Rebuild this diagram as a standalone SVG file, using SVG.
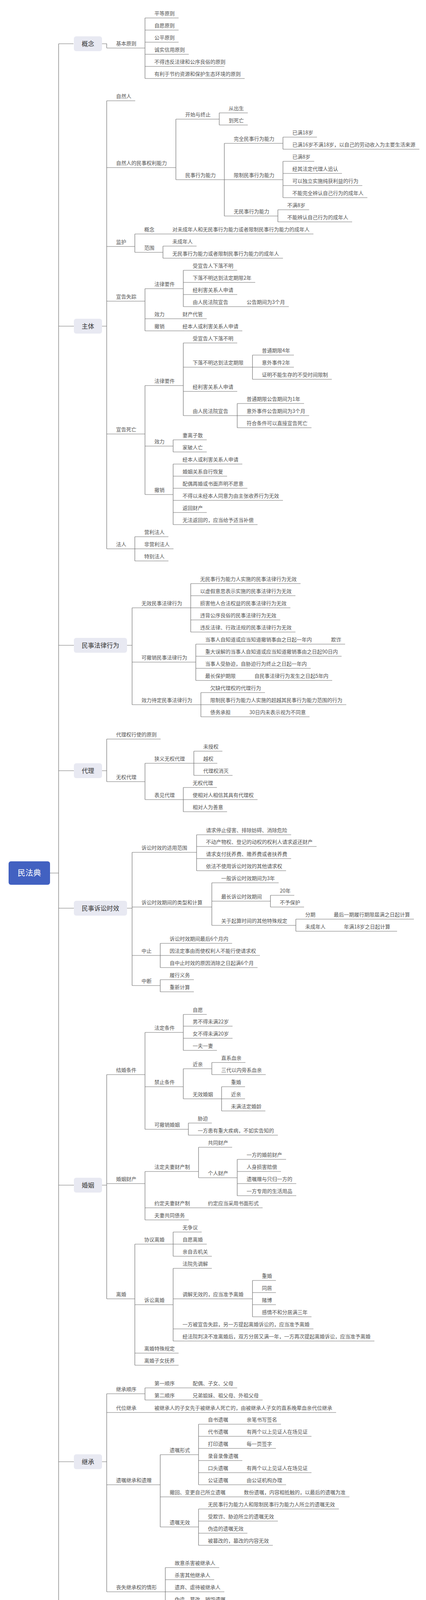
<svg xmlns="http://www.w3.org/2000/svg" width="1090" height="4469" viewBox="0 0 1090 4469">
<style>
.t{font-family:"Noto Sans CJK SC","Noto Sans",sans-serif;font-size:13px;fill:#555}
.u,.c{fill:none;stroke:#6e6e6e;stroke-width:1.2}
.b{fill:#e8e9f2}
.bt{font-family:"Noto Sans CJK SC","Noto Sans",sans-serif;font-size:16px;fill:#333;text-anchor:middle}
.r{fill:#4261c1}
.rt{font-family:"Noto Sans CJK SC","Noto Sans",sans-serif;font-size:20px;fill:#fff;text-anchor:middle}
</style>
<rect width="1090" height="4469" fill="#fff"/>
<g id="connectors" class="c">
<path d="M128 2235H150M150 112V4218"/>
<path d="M150 112H188M261 112H273V123M371 46V201"/>
<path d="M150 835H189M261 835H273M273 258V1405M450 305V460M561 289V320M574 367V553M724 351V382M724 413V506M711 537V568M345 599V646M417 630V661M371 739V847M469 692V785M371 987V1266M469 878V1064M646 909V971M607 1033V1095M443 1126V1157M443 1188V1343M345 1374V1436"/>
<path d="M150 1652H189M325 1652H338M338 1556V1804M488 1494V1618M501 1649V1742M514 1773V1835"/>
<path d="M150 1973H189M261 1973H273M273 1892V2001M371 1954V2047M496 1923V1985M469 2016V2078"/>
<path d="M150 2325H189M325 2325H338M338 2182V2523M503 2137V2229M542 2260V2369M692 2292V2322M757 2353V2384M410 2415V2477M410 2508V2539"/>
<path d="M150 3034H189M261 3034H273M273 2751V3325M371 2643V2891M469 2597V2689M469 2736V2813M542 2720V2751M567 2782V2844M482 2875V2906M371 2999V3123M508 2937V3015M607 2968V3061M345 3185V3495M443 3154V3216M443 3247V3433M646 3278V3371"/>
<path d="M150 3742H189M261 3742H273M273 3568V4075M371 3553V3584M410 3724V3909M508 3646V3801M508 3863V3956M423 4013V4137"/>
<path d="M150 4218H189M261 4218H273M273 4215V4447M384 4168V4261M371 4292V4385"/>
</g>
<g id="root"><rect class="r" x="22" y="2205" width="106" height="60" rx="6"/><text class="rt" x="75" y="2242">民法典</text></g>
<g id="l1-gainian"><rect class="b" x="189" y="93" width="72" height="38" rx="6"/><text class="bt" x="225" y="118">概念</text></g>
<g id="l1-zhuti"><rect class="b" x="189" y="816" width="72" height="38" rx="6"/><text class="bt" x="225" y="841">主体</text></g>
<g id="l1-mfxw"><rect class="b" x="189" y="1633" width="136" height="38" rx="6"/><text class="bt" x="257" y="1658">民事法律行为</text></g>
<g id="l1-daili"><rect class="b" x="189" y="1954" width="72" height="38" rx="6"/><text class="bt" x="225" y="1979">代理</text></g>
<g id="l1-sxsx"><rect class="b" x="189" y="2306" width="136" height="38" rx="6"/><text class="bt" x="257" y="2331">民事诉讼时效</text></g>
<g id="l1-hunyin"><rect class="b" x="189" y="3015" width="72" height="38" rx="6"/><text class="bt" x="225" y="3040">婚姻</text></g>
<g id="l1-jicheng"><rect class="b" x="189" y="3723" width="72" height="38" rx="6"/><text class="bt" x="225" y="3748">继承</text></g>
<g id="l1-yichan"><rect class="b" x="189" y="4199" width="72" height="38" rx="6"/><text class="bt" x="225" y="4224">遗产</text></g>

<g id="a1"><path class="u" d="M273 123H371"/><text class="t" x="297" y="116">基本原则</text></g>
<g id="a2"><path class="u" d="M371 46H457"/><text class="t" x="395" y="39">平等原则</text></g>
<g id="a3"><path class="u" d="M371 77H457"/><text class="t" x="395" y="70">自愿原则</text></g>
<g id="a4"><path class="u" d="M371 108H457"/><text class="t" x="395" y="101">公平原则</text></g>
<g id="a5"><path class="u" d="M371 139H483"/><text class="t" x="395" y="132">诚实信用原则</text></g>
<g id="a6"><path class="u" d="M371 170H574"/><text class="t" x="395" y="163">不得违反法律和公序良俗的原则</text></g>
<g id="a7"><path class="u" d="M371 201H626"/><text class="t" x="395" y="194">有利于节约资源和保护生态环境的原则</text></g>

<g id="b1"><path class="u" d="M273 258H346"/><text class="t" x="297" y="251">自然人</text></g>
<g id="b2"><path class="u" d="M273 429H450"/><text class="t" x="297" y="422">自然人的民事权利能力</text></g>
<g id="b3"><path class="u" d="M450 305H561"/><text class="t" x="474" y="298">开始与终止</text></g>
<g id="b4"><path class="u" d="M561 289H634"/><text class="t" x="585" y="282">从出生</text></g>
<g id="b5"><path class="u" d="M561 320H634"/><text class="t" x="585" y="313">到死亡</text></g>
<g id="b6"><path class="u" d="M450 460H574"/><text class="t" x="474" y="453">民事行为能力</text></g>
<g id="b7"><path class="u" d="M574 367H724"/><text class="t" x="598" y="360">完全民事行为能力</text></g>
<g id="b8"><path class="u" d="M724 351H811"/><text class="t" x="748" y="344">已满18岁</text></g>
<g id="b9"><path class="u" d="M724 382H1073"/><text class="t" x="748" y="375">已满16岁不满18岁，以自己的劳动收入为主要生活来源</text></g>
<g id="b10"><path class="u" d="M574 460H724"/><text class="t" x="598" y="453">限制民事行为能力</text></g>
<g id="b11"><path class="u" d="M724 413H804"/><text class="t" x="748" y="406">已满8岁</text></g>
<g id="b12"><path class="u" d="M724 444H875"/><text class="t" x="748" y="437">经其法定代理人追认</text></g>
<g id="b13"><path class="u" d="M724 475H927"/><text class="t" x="748" y="468">可以独立实施纯获利益的行为</text></g>
<g id="b14"><path class="u" d="M724 506H940"/><text class="t" x="748" y="499">不能完全辨认自己行为的成年人</text></g>
<g id="b15"><path class="u" d="M574 553H711"/><text class="t" x="598" y="546">无民事行为能力</text></g>
<g id="b16"><path class="u" d="M711 537H791"/><text class="t" x="735" y="530">不满8岁</text></g>
<g id="b17"><path class="u" d="M711 568H901"/><text class="t" x="735" y="561">不能辨认自己行为的成年人</text></g>
<g id="b18"><path class="u" d="M273 631H345"/><text class="t" x="297" y="624">监护</text></g>
<g id="b19"><path class="u" d="M345 599H417"/><text class="t" x="369" y="592">概念</text></g>
<g id="b20"><path class="u" d="M417 599H802"/><text class="t" x="441" y="592">对未成年人和无民事行为能力或者限制民事行为能力的成年人</text></g>
<g id="b21"><path class="u" d="M345 646H417"/><text class="t" x="369" y="639">范围</text></g>
<g id="b22"><path class="u" d="M417 630H503"/><text class="t" x="441" y="623">未成年人</text></g>
<g id="b23"><path class="u" d="M417 661H724"/><text class="t" x="441" y="654">无民事行为能力或者限制民事行为能力的成年人</text></g>
<g id="b24"><path class="u" d="M273 771H371"/><text class="t" x="297" y="764">宣告失踪</text></g>
<g id="b25"><path class="u" d="M371 739H469"/><text class="t" x="395" y="732">法律要件</text></g>
<g id="b26"><path class="u" d="M469 692H607"/><text class="t" x="493" y="685">受宣告人下落不明</text></g>
<g id="b27"><path class="u" d="M469 723H653"/><text class="t" x="493" y="716">下落不明达到法定期限2年</text></g>
<g id="b28"><path class="u" d="M469 754H607"/><text class="t" x="493" y="747">经利害关系人申请</text></g>
<g id="b29"><path class="u" d="M469 785H607"/><text class="t" x="493" y="778">由人民法院宣告</text></g>
<g id="b30"><path class="u" d="M607 785H739"/><text class="t" x="631" y="778">公告期间为3个月</text></g>
<g id="b31"><path class="u" d="M371 816H443"/><text class="t" x="395" y="809">效力</text></g>
<g id="b32"><path class="u" d="M443 816H529"/><text class="t" x="467" y="809">财产代管</text></g>
<g id="b33"><path class="u" d="M371 847H443"/><text class="t" x="395" y="840">撤销</text></g>
<g id="b34"><path class="u" d="M443 847H620"/><text class="t" x="467" y="840">经本人或利害关系人申请</text></g>
<g id="b35"><path class="u" d="M273 1111H371"/><text class="t" x="297" y="1104">宣告死亡</text></g>
<g id="b36"><path class="u" d="M371 987H469"/><text class="t" x="395" y="980">法律要件</text></g>
<g id="b37"><path class="u" d="M469 878H607"/><text class="t" x="493" y="871">受宣告人下落不明</text></g>
<g id="b38"><path class="u" d="M469 940H646"/><text class="t" x="493" y="933">下落不明达到法定期限</text></g>
<g id="b39"><path class="u" d="M646 909H752"/><text class="t" x="670" y="902">普通期限4年</text></g>
<g id="b40"><path class="u" d="M646 940H752"/><text class="t" x="670" y="933">意外事件2年</text></g>
<g id="b41"><path class="u" d="M646 971H849"/><text class="t" x="670" y="964">证明不能生存的不受时间限制</text></g>
<g id="b42"><path class="u" d="M469 1002H607"/><text class="t" x="493" y="995">经利害关系人申请</text></g>
<g id="b43"><path class="u" d="M469 1064H607"/><text class="t" x="493" y="1057">由人民法院宣告</text></g>
<g id="b44"><path class="u" d="M607 1033H778"/><text class="t" x="631" y="1026">普通期限公告期间为1年</text></g>
<g id="b45"><path class="u" d="M607 1064H791"/><text class="t" x="631" y="1057">意外事件公告期间为3个月</text></g>
<g id="b46"><path class="u" d="M607 1095H797"/><text class="t" x="631" y="1088">符合条件可以直接宣告死亡</text></g>
<g id="b47"><path class="u" d="M371 1142H443"/><text class="t" x="395" y="1135">效力</text></g>
<g id="b48"><path class="u" d="M443 1126H529"/><text class="t" x="467" y="1119">妻离子散</text></g>
<g id="b49"><path class="u" d="M443 1157H529"/><text class="t" x="467" y="1150">家破人亡</text></g>
<g id="b50"><path class="u" d="M371 1266H443"/><text class="t" x="395" y="1259">撤销</text></g>
<g id="b51"><path class="u" d="M443 1188H620"/><text class="t" x="467" y="1181">经本人或利害关系人申请</text></g>
<g id="b52"><path class="u" d="M443 1219H581"/><text class="t" x="467" y="1212">婚姻关系自行恢复</text></g>
<g id="b53"><path class="u" d="M443 1250H633"/><text class="t" x="467" y="1243">配偶再婚或书面声明不愿意</text></g>
<g id="b54"><path class="u" d="M443 1281H724"/><text class="t" x="467" y="1274">不得以未经本人同意为由主张收养行为无效</text></g>
<g id="b55"><path class="u" d="M443 1312H529"/><text class="t" x="467" y="1305">返回财产</text></g>
<g id="b56"><path class="u" d="M443 1343H659"/><text class="t" x="467" y="1336">无法返回的，应当给予适当补偿</text></g>
<g id="b57"><path class="u" d="M273 1405H345"/><text class="t" x="297" y="1398">法人</text></g>
<g id="b58"><path class="u" d="M345 1374H431"/><text class="t" x="369" y="1367">营利法人</text></g>
<g id="b59"><path class="u" d="M345 1405H444"/><text class="t" x="369" y="1398">非营利法人</text></g>
<g id="b60"><path class="u" d="M345 1436H431"/><text class="t" x="369" y="1429">特别法人</text></g>

<g id="c1"><path class="u" d="M338 1556H488"/><text class="t" x="362" y="1549">无效民事法律行为</text></g>
<g id="c2"><path class="u" d="M488 1494H769"/><text class="t" x="512" y="1487">无民事行为能力人实施的民事法律行为无效</text></g>
<g id="c3"><path class="u" d="M488 1525H756"/><text class="t" x="512" y="1518">以虚假意思表示实施的民事法律行为无效</text></g>
<g id="c4"><path class="u" d="M488 1556H743"/><text class="t" x="512" y="1549">损害他人合法权益的民事法律行为无效</text></g>
<g id="c5"><path class="u" d="M488 1587H717"/><text class="t" x="512" y="1580">违背公序良俗的民事法律行为无效</text></g>
<g id="c6"><path class="u" d="M488 1618H756"/><text class="t" x="512" y="1611">违反法律、行政法规的民事法律行为无效</text></g>
<g id="c7"><path class="u" d="M338 1695H501"/><text class="t" x="362" y="1688">可撤销民事法律行为</text></g>
<g id="c8"><path class="u" d="M501 1649H823"/><text class="t" x="525" y="1642">当事人自知道或应当知道撤销事由之日起一年内</text></g>
<g id="c9"><path class="u" d="M823 1649H883"/><text class="t" x="847" y="1642">欺诈</text></g>
<g id="c10"><path class="u" d="M501 1680H874"/><text class="t" x="525" y="1673">重大误解的当事人自知道或应当知道撤销事由之日起90日内</text></g>
<g id="c11"><path class="u" d="M501 1711H795"/><text class="t" x="525" y="1704">当事人受胁迫，自胁迫行为终止之日起一年内</text></g>
<g id="c12"><path class="u" d="M501 1742H627"/><text class="t" x="525" y="1735">最长保护期限</text></g>
<g id="c13"><path class="u" d="M627 1742H850"/><text class="t" x="651" y="1735">自民事法律行为发生之日起5年内</text></g>
<g id="c14"><path class="u" d="M338 1804H514"/><text class="t" x="362" y="1797">效力待定民事法律行为</text></g>
<g id="c15"><path class="u" d="M514 1773H678"/><text class="t" x="538" y="1766">欠缺代理权的代理行为</text></g>
<g id="c16"><path class="u" d="M514 1804H886"/><text class="t" x="538" y="1797">限制民事行为能力人实施的超越其民事行为能力范围的行为</text></g>
<g id="c17"><path class="u" d="M514 1835H614"/><text class="t" x="538" y="1828">债务承担</text></g>
<g id="c18"><path class="u" d="M614 1835H792"/><text class="t" x="638" y="1828">30日内未表示视为不同意</text></g>

<g id="d1"><path class="u" d="M273 1892H411"/><text class="t" x="297" y="1885">代理权行使的原则</text></g>
<g id="d2"><path class="u" d="M273 2001H371"/><text class="t" x="297" y="1994">无权代理</text></g>
<g id="d3"><path class="u" d="M371 1954H496"/><text class="t" x="395" y="1947">狭义无权代理</text></g>
<g id="d4"><path class="u" d="M496 1923H569"/><text class="t" x="520" y="1916">未授权</text></g>
<g id="d5"><path class="u" d="M496 1954H556"/><text class="t" x="520" y="1947">越权</text></g>
<g id="d6"><path class="u" d="M496 1985H595"/><text class="t" x="520" y="1978">代理权消灭</text></g>
<g id="d7"><path class="u" d="M371 2047H469"/><text class="t" x="395" y="2040">表见代理</text></g>
<g id="d8"><path class="u" d="M469 2016H555"/><text class="t" x="493" y="2009">无权代理</text></g>
<g id="d9"><path class="u" d="M469 2047H659"/><text class="t" x="493" y="2040">使相对人相信其具有代理权</text></g>
<g id="d10"><path class="u" d="M469 2078H581"/><text class="t" x="493" y="2071">相对人为善意</text></g>

<g id="e1"><path class="u" d="M338 2182H503"/><text class="t" x="362" y="2175">诉讼时效的适用范围</text></g>
<g id="e2"><path class="u" d="M503 2137H745"/><text class="t" x="527" y="2130">请求停止侵害、排除妨碍、消除危险</text></g>
<g id="e3"><path class="u" d="M503 2167H810"/><text class="t" x="527" y="2160">不动产物权、登记的动权的权利人请求返还财产</text></g>
<g id="e4"><path class="u" d="M503 2198H745"/><text class="t" x="527" y="2191">请求支付抚养费、赡养费或者扶养费</text></g>
<g id="e5"><path class="u" d="M503 2229H732"/><text class="t" x="527" y="2222">依法不使用诉讼时效的其他请求权</text></g>
<g id="e6"><path class="u" d="M338 2322H542"/><text class="t" x="362" y="2315">诉讼时效期间的类型和计算</text></g>
<g id="e7"><path class="u" d="M542 2260H713"/><text class="t" x="566" y="2253">一般诉讼时效期间为3年</text></g>
<g id="e8"><path class="u" d="M542 2307H692"/><text class="t" x="566" y="2300">最长诉讼时效期间</text></g>
<g id="e9"><path class="u" d="M692 2292H753"/><text class="t" x="716" y="2285">20年</text></g>
<g id="e10"><path class="u" d="M692 2322H778"/><text class="t" x="716" y="2315">不予保护</text></g>
<g id="e11"><path class="u" d="M542 2369H757"/><text class="t" x="566" y="2362">关于起算时间的其他特殊规定</text></g>
<g id="e12"><path class="u" d="M757 2353H830"/><text class="t" x="781" y="2346">分期</text></g>
<g id="e13"><path class="u" d="M830 2353H1059"/><text class="t" x="854" y="2346">最后一期履行期限届满之日起计算</text></g>
<g id="e14"><path class="u" d="M757 2384H856"/><text class="t" x="781" y="2377">未成年人</text></g>
<g id="e15"><path class="u" d="M856 2384H1016"/><text class="t" x="880" y="2377">年满18岁之日起计算</text></g>
<g id="e16"><path class="u" d="M338 2446H410"/><text class="t" x="362" y="2439">中止</text></g>
<g id="e17"><path class="u" d="M410 2415H594"/><text class="t" x="434" y="2408">诉讼时效期间最后6个月内</text></g>
<g id="e18"><path class="u" d="M410 2446H665"/><text class="t" x="434" y="2439">因法定事由而使权利人不能行使请求权</text></g>
<g id="e19"><path class="u" d="M410 2477H659"/><text class="t" x="434" y="2470">自中止时效的原因消除之日起满6个月</text></g>
<g id="e20"><path class="u" d="M338 2523H410"/><text class="t" x="362" y="2516">中断</text></g>
<g id="e21"><path class="u" d="M410 2508H496"/><text class="t" x="434" y="2501">履行义务</text></g>
<g id="e22"><path class="u" d="M410 2539H496"/><text class="t" x="434" y="2532">重新计算</text></g>

<g id="f1"><path class="u" d="M273 2751H371"/><text class="t" x="297" y="2744">结婚条件</text></g>
<g id="f2"><path class="u" d="M371 2643H469"/><text class="t" x="395" y="2636">法定条件</text></g>
<g id="f3"><path class="u" d="M469 2597H529"/><text class="t" x="493" y="2590">自愿</text></g>
<g id="f4"><path class="u" d="M469 2627H595"/><text class="t" x="493" y="2620">男不得未满22岁</text></g>
<g id="f5"><path class="u" d="M469 2658H595"/><text class="t" x="493" y="2651">女不得未满20岁</text></g>
<g id="f6"><path class="u" d="M469 2689H555"/><text class="t" x="493" y="2682">一夫一妻</text></g>
<g id="f7"><path class="u" d="M371 2782H469"/><text class="t" x="395" y="2775">禁止条件</text></g>
<g id="f8"><path class="u" d="M469 2736H542"/><text class="t" x="493" y="2729">近亲</text></g>
<g id="f9"><path class="u" d="M542 2720H628"/><text class="t" x="566" y="2713">直系血亲</text></g>
<g id="f10"><path class="u" d="M542 2751H680"/><text class="t" x="566" y="2744">三代以内旁系血亲</text></g>
<g id="f11"><path class="u" d="M469 2813H567"/><text class="t" x="493" y="2806">无效婚姻</text></g>
<g id="f12"><path class="u" d="M567 2782H627"/><text class="t" x="591" y="2775">重婚</text></g>
<g id="f13"><path class="u" d="M567 2813H627"/><text class="t" x="591" y="2806">近亲</text></g>
<g id="f14"><path class="u" d="M567 2844H679"/><text class="t" x="591" y="2837">未满法定婚龄</text></g>
<g id="f15"><path class="u" d="M371 2891H482"/><text class="t" x="395" y="2884">可撤销婚姻</text></g>
<g id="f16"><path class="u" d="M482 2875H542"/><text class="t" x="506" y="2868">胁迫</text></g>
<g id="f17"><path class="u" d="M482 2906H711"/><text class="t" x="506" y="2899">一方患有重大疾病，不如实告知的</text></g>
<g id="f18"><path class="u" d="M273 3030H371"/><text class="t" x="297" y="3023">婚姻财产</text></g>
<g id="f19"><path class="u" d="M371 2999H508"/><text class="t" x="395" y="2992">法定夫妻财产制</text></g>
<g id="f20"><path class="u" d="M508 2937H594"/><text class="t" x="532" y="2930">共同财产</text></g>
<g id="f21"><path class="u" d="M508 3015H607"/><text class="t" x="532" y="3008">个人财产</text></g>
<g id="f22"><path class="u" d="M607 2968H732"/><text class="t" x="631" y="2961">一方的婚前财产</text></g>
<g id="f23"><path class="u" d="M607 2999H719"/><text class="t" x="631" y="2992">人身损害赔偿</text></g>
<g id="f24"><path class="u" d="M607 3030H758"/><text class="t" x="631" y="3023">遗嘱赠与只归一方的</text></g>
<g id="f25"><path class="u" d="M607 3061H758"/><text class="t" x="631" y="3054">一方专用的生活用品</text></g>
<g id="f26"><path class="u" d="M371 3092H508"/><text class="t" x="395" y="3085">约定夫妻财产制</text></g>
<g id="f27"><path class="u" d="M508 3092H672"/><text class="t" x="532" y="3085">约定应当采用书面形式</text></g>
<g id="f28"><path class="u" d="M371 3123H483"/><text class="t" x="395" y="3116">夫妻共同债务</text></g>
<g id="f29"><path class="u" d="M273 3325H345"/><text class="t" x="297" y="3318">离婚</text></g>
<g id="f30"><path class="u" d="M345 3185H443"/><text class="t" x="369" y="3178">协议离婚</text></g>
<g id="f31"><path class="u" d="M443 3154H516"/><text class="t" x="467" y="3147">无争议</text></g>
<g id="f32"><path class="u" d="M443 3185H529"/><text class="t" x="467" y="3178">自愿离婚</text></g>
<g id="f33"><path class="u" d="M443 3216H542"/><text class="t" x="467" y="3209">亲自去机关</text></g>
<g id="f34"><path class="u" d="M345 3340H443"/><text class="t" x="369" y="3333">诉讼离婚</text></g>
<g id="f35"><path class="u" d="M443 3247H542"/><text class="t" x="467" y="3240">法院先调解</text></g>
<g id="f36"><path class="u" d="M443 3325H646"/><text class="t" x="467" y="3318">调解无效的，应当准予离婚</text></g>
<g id="f37"><path class="u" d="M646 3278H706"/><text class="t" x="670" y="3271">重婚</text></g>
<g id="f38"><path class="u" d="M646 3309H706"/><text class="t" x="670" y="3302">同居</text></g>
<g id="f39"><path class="u" d="M646 3340H706"/><text class="t" x="670" y="3333">赌博</text></g>
<g id="f40"><path class="u" d="M646 3371H797"/><text class="t" x="670" y="3364">感情不和分居满三年</text></g>
<g id="f41"><path class="u" d="M443 3402H802"/><text class="t" x="467" y="3395">一方被宣告失踪，另一方提起离婚诉讼的，应当准予离婚</text></g>
<g id="f42"><path class="u" d="M443 3433H958"/><text class="t" x="467" y="3426">经法院判决不准离婚后，双方分居又满一年，一方再次提起离婚诉讼，应当准予离婚</text></g>
<g id="f43"><path class="u" d="M345 3464H457"/><text class="t" x="369" y="3457">离婚特殊规定</text></g>
<g id="f44"><path class="u" d="M345 3495H457"/><text class="t" x="369" y="3488">离婚子女抚养</text></g>

<g id="g1"><path class="u" d="M273 3568H371"/><text class="t" x="297" y="3561">继承顺序</text></g>
<g id="g2"><path class="u" d="M371 3553H469"/><text class="t" x="395" y="3546">第一顺序</text></g>
<g id="g3"><path class="u" d="M469 3553H607"/><text class="t" x="493" y="3546">配偶、子女、父母</text></g>
<g id="g4"><path class="u" d="M371 3584H469"/><text class="t" x="395" y="3577">第二顺序</text></g>
<g id="g5"><path class="u" d="M469 3584H672"/><text class="t" x="493" y="3577">兄弟姐妹、祖父母、外祖父母</text></g>
<g id="g6"><path class="u" d="M273 3616H371"/><text class="t" x="297" y="3609">代位继承</text></g>
<g id="g7"><path class="u" d="M371 3616H860"/><text class="t" x="395" y="3609">被继承人的子女先于被继承人死亡的，由被继承人子女的直系晚辈血亲代位继承</text></g>
<g id="g8"><path class="u" d="M273 3801H410"/><text class="t" x="297" y="3794">遗嘱继承和遗赠</text></g>
<g id="g9"><path class="u" d="M410 3724H508"/><text class="t" x="434" y="3717">遗嘱形式</text></g>
<g id="g10"><path class="u" d="M508 3646H607"/><text class="t" x="532" y="3639">自书遗嘱</text></g>
<g id="g11"><path class="u" d="M607 3646H719"/><text class="t" x="631" y="3639">亲笔书写签名</text></g>
<g id="g12"><path class="u" d="M508 3677H607"/><text class="t" x="532" y="3670">代书遗嘱</text></g>
<g id="g13"><path class="u" d="M607 3677H797"/><text class="t" x="631" y="3670">有两个以上见证人在场见证</text></g>
<g id="g14"><path class="u" d="M508 3708H607"/><text class="t" x="532" y="3701">打印遗嘱</text></g>
<g id="g15"><path class="u" d="M607 3708H706"/><text class="t" x="631" y="3701">每一页签字</text></g>
<g id="g16"><path class="u" d="M508 3739H620"/><text class="t" x="532" y="3732">录音录像遗嘱</text></g>
<g id="g17"><path class="u" d="M508 3770H607"/><text class="t" x="532" y="3763">口头遗嘱</text></g>
<g id="g18"><path class="u" d="M607 3770H797"/><text class="t" x="631" y="3763">有两个以上见证人在场见证</text></g>
<g id="g19"><path class="u" d="M508 3801H607"/><text class="t" x="532" y="3794">公证遗嘱</text></g>
<g id="g20"><path class="u" d="M607 3801H732"/><text class="t" x="631" y="3794">由公证机构办理</text></g>
<g id="g21"><path class="u" d="M410 3832H600"/><text class="t" x="434" y="3825">撤回、变更自己所立遗嘱</text></g>
<g id="g22"><path class="u" d="M600 3832H894"/><text class="t" x="624" y="3825">数份遗嘱，内容相抵触的，以最后的遗嘱为准</text></g>
<g id="g23"><path class="u" d="M410 3909H508"/><text class="t" x="434" y="3902">遗嘱无效</text></g>
<g id="g24"><path class="u" d="M508 3863H867"/><text class="t" x="532" y="3856">无民事行为能力人和限制民事行为能力人所立的遗嘱无效</text></g>
<g id="g25"><path class="u" d="M508 3894H711"/><text class="t" x="532" y="3887">受欺诈、胁迫所立的遗嘱无效</text></g>
<g id="g26"><path class="u" d="M508 3925H633"/><text class="t" x="532" y="3918">伪造的遗嘱无效</text></g>
<g id="g27"><path class="u" d="M508 3956H698"/><text class="t" x="532" y="3949">被篡改的，篡改的内容无效</text></g>
<g id="g28"><path class="u" d="M273 4075H423"/><text class="t" x="297" y="4068">丧失继承权的情形</text></g>
<g id="g29"><path class="u" d="M423 4013H561"/><text class="t" x="447" y="4006">故意杀害被继承人</text></g>
<g id="g30"><path class="u" d="M423 4044H548"/><text class="t" x="447" y="4037">杀害其他继承人</text></g>
<g id="g31"><path class="u" d="M423 4075H574"/><text class="t" x="447" y="4068">遗弃、虐待被继承人</text></g>
<g id="g32"><path class="u" d="M423 4106H587"/><text class="t" x="447" y="4099">伪造、篡改、销毁遗嘱</text></g>
<g id="g33"><path class="u" d="M423 4137H847"/><text class="t" x="447" y="4130">以欺诈、胁迫等手段迫使或者妨碍被继承人设立、变更或者撤回遗嘱</text></g>

<g id="h1"><path class="u" d="M273 4215H384"/><text class="t" x="297" y="4208">遗产管理人</text></g>
<g id="h2"><path class="u" d="M384 4168H561"/><text class="t" x="408" y="4161">遗产执行人为遗产管理人</text></g>
<g id="h3"><path class="u" d="M384 4199H509"/><text class="t" x="408" y="4192">推选遗产管理人</text></g>
<g id="h4"><path class="u" d="M384 4230H535"/><text class="t" x="408" y="4223">共同担任遗产管理人</text></g>
<g id="h5"><path class="u" d="M384 4261H665"/><text class="t" x="408" y="4254">被继承人生前住所地民政部门或村民委员会</text></g>
<g id="h6"><path class="u" d="M273 4339H371"/><text class="t" x="297" y="4332">遗产分割</text></g>
<g id="h7"><path class="u" d="M371 4292H444"/><text class="t" x="395" y="4285">转继承</text></g>
<g id="h8"><path class="u" d="M371 4323H548"/><text class="t" x="395" y="4316">应当分出一半为配偶所有</text></g>
<g id="h9"><path class="u" d="M371 4354H548"/><text class="t" x="395" y="4347">应当保留胎儿的继承份额</text></g>
<g id="h10"><path class="u" d="M371 4385H626"/><text class="t" x="395" y="4378">不宜分割的，可以采取折价或适当补偿</text></g>
<g id="h11"><path class="u" d="M273 4416H397"/><text class="t" x="297" y="4409">遗赠扶养协议</text></g>
<g id="h12"><path class="u" d="M397 4416H704"/><text class="t" x="421" y="4409">承担该自然人生养死葬的义务，享受遗赠的权利</text></g>
<g id="h13"><path class="u" d="M273 4447H371"/><text class="t" x="297" y="4440">清偿债务</text></g>
<g id="h14"><path class="u" d="M371 4447H639"/><text class="t" x="395" y="4440">清偿被继承人依法应当缴纳的税款和债务</text></g>
</svg>
